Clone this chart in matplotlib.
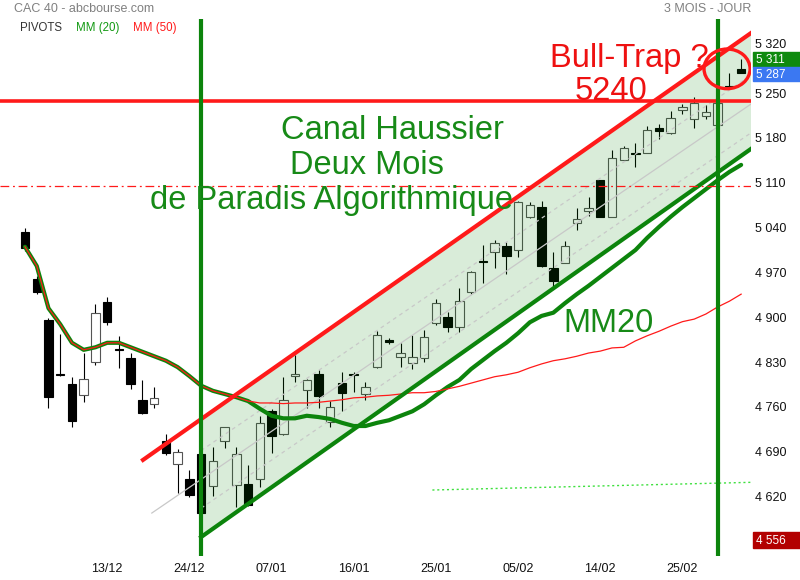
import numpy as np
import pandas as pd
import matplotlib
matplotlib.use("Agg")
import matplotlib.pyplot as plt
from matplotlib.patches import Ellipse, Rectangle, Polygon

plt.rcParams['font.family'] = ['Liberation Sans', 'DejaVu Sans']

# --- data: CAC 40 daily candles, 04/12/2018 -> 04/03/2019 ---
# trading days (Euronext closed 25/12, 26/12 and 01/01)
days = pd.bdate_range("2018-12-04", "2019-03-04")
days = days[~days.strftime("%m-%d").isin(["12-25", "12-26", "01-01"])]
dates = list(days.strftime("%d/%m"))

opens = [5033, 4960, 4896, 4811, 4796, 4778, 4830, 4924, 4850, 4836,
         4771, 4764, 4707, 4671, 4647, 4686, 4636, 4707, 4638, 4639,
         4647, 4753, 4718, 4808, 4786, 4811, 4736, 4797, 4811, 4780,
         4822, 4864, 4838, 4828, 4836, 4891, 4900, 4885, 4939, 4988,
         5002, 5011, 5005, 5057, 5072, 4977, 4985, 5047, 5066, 5114,
         5057, 5146, 5157, 5157, 5196, 5188, 5224, 5210, 5214, 5200,
         5261, 5288]
highs = [5039, 4964, 4899, 4874, 4807, 4844, 4921, 4932, 4871, 4844,
         4802, 4791, 4718, 4694, 4661, 4689, 4697, 4729, 4697, 4669,
         4746, 4757, 4807, 4841, 4803, 4818, 4769, 4814, 4814, 4799,
         4878, 4868, 4860, 4872, 4880, 4928, 4908, 4946, 4972, 5013,
         5021, 5018, 5081, 5080, 5082, 5002, 5019, 5071, 5088, 5115,
         5161, 5168, 5172, 5199, 5202, 5222, 5233, 5244, 5231, 5238,
         5282, 5304]
lows = [5003, 4936, 4758, 4808, 4728, 4768, 4825, 4888, 4821, 4788,
        4749, 4758, 4685, 4625, 4619, 4556, 4621, 4696, 4603, 4605,
        4635, 4688, 4716, 4799, 4758, 4758, 4728, 4753, 4783, 4771,
        4821, 4858, 4822, 4819, 4830, 4888, 4877, 4877, 4936, 4953,
        4977, 4968, 4994, 5055, 4979, 4946, 4984, 5036, 5058, 5056,
        5056, 5145, 5135, 5156, 5178, 5187, 5218, 5196, 5210, 5199,
        5258, 5281]
closes = [5008, 4939, 4775, 4809, 4738, 4803, 4907, 4893, 4848, 4796,
          4750, 4774, 4688, 4689, 4622, 4594, 4675, 4728, 4686, 4607,
          4735, 4714, 4771, 4811, 4802, 4777, 4760, 4782, 4809, 4791,
          4872, 4862, 4844, 4838, 4869, 4922, 4885, 4925, 4971, 4986,
          5016, 4996, 5080, 5075, 4980, 4957, 5011, 5053, 5071, 5057,
          5149, 5164, 5155, 5193, 5191, 5211, 5228, 5235, 5221, 5235,
          5260, 5282]

mm20 = [5010, 4980, 4914, 4889, 4860, 4849, 4853, 4860, 4860, 4853,
        4846, 4839, 4832, 4822, 4808, 4793, 4785, 4780, 4775, 4769,
        4757, 4746, 4742, 4742, 4746, 4744, 4741, 4735, 4730, 4730,
        4735, 4739, 4746, 4753, 4764, 4778, 4791, 4802, 4819, 4833,
        4847, 4860, 4875, 4892, 4902, 4907, 4922, 4936, 4949, 4963,
        4977, 4991, 5005, 5024, 5041, 5057, 5072, 5086, 5100, 5114,
        5127, 5138]
mm50 = [5010, 4980, 4914, 4889, 4860, 4849, 4853, 4860, 4860, 4853,
        4846, 4839, 4832, 4822, 4808, 4793, 4785, 4780, 4775, 4769,
        4766, 4766, 4765, 4766, 4766, 4767, 4769, 4771, 4774, 4775,
        4777, 4778, 4780, 4782, 4782, 4784, 4788, 4792, 4797, 4802,
        4807, 4810, 4814, 4821, 4827, 4832, 4835, 4839, 4844, 4847,
        4852, 4853, 4863, 4871, 4878, 4886, 4893, 4897, 4905, 4916,
        4925, 4936]

price_ticks = [4620, 4690, 4760, 4830, 4900, 4970, 5040, 5110, 5180, 5250]
top_tick = 5320

# drawn lines (day index, price)
channel_top = ([10.05, 61.84], [4677, 5344])
channel_bottom = ([15, 61.84], [4556.5, 5163])
regression = ([10.8, 61.84], [4594, 5233])
regression_band = 45
resistance = 5238
pivot_level = 5105
mm200_dotted = ([34.7, 61.84], [4630, 4642])
marker_days = [15, 59]

GREEN = '#0c840c'
RED = '#ff1a1a'


def fmt(v):
    return f"{v:,}".replace(",", " ")


fig = plt.figure(figsize=(8, 5.8), dpi=100)
ax = fig.add_axes([0, 24 / 580, 751 / 800, (556 - 19) / 580])
ax.set_xlim(-2.13, 61.84)
ax.set_ylim(4526.9, 5365.9)

x = np.arange(len(dates))
o = np.array(opens, float)
h = np.array(highs, float)
l = np.array(lows, float)
c = np.array(closes, float)
up = c >= o

# --- candles ---
ax.vlines(x, l, h, color='black', lw=0.8, zorder=2)
bottom = np.minimum(o, c)
height = np.maximum(np.abs(c - o), 1.2)
ax.bar(x[up], height[up], bottom=bottom[up], width=0.72, facecolor='white',
       edgecolor='#555555', lw=0.8, zorder=3)
ax.bar(x[~up], height[~up], bottom=bottom[~up], width=0.72, facecolor='black',
       edgecolor='black', lw=0.8, zorder=3)

# --- channel fill (on top of the candles, transparent) ---
cx = np.array([channel_bottom[0][0], channel_bottom[0][1]])
lo = np.interp(cx, *channel_bottom)
hi = np.interp(cx, *channel_top)
poly = Polygon([(cx[0], lo[0]), (cx[1], lo[1]), (cx[1], hi[1]), (cx[0], hi[0])],
               closed=True, facecolor='#008000', alpha=0.15, edgecolor='none', zorder=4)
ax.add_patch(poly)

# regression lines
ax.plot(*regression, color='#c8c8c8', lw=0.9, zorder=4.5)
rx = np.array([15, regression[0][1]])
ry = np.interp(rx, *regression)
ax.plot(rx, ry + regression_band, color='#c8c8c8', lw=0.9, ls=(0, (3, 3)), zorder=4.5)
ax.plot(rx, ry - regression_band, color='#c8c8c8', lw=0.9, ls=(0, (3, 3)), zorder=4.5)

# moving averages
ax.plot(x, mm20, color=GREEN, lw=3, zorder=5, solid_capstyle='round')
ax.plot(x, mm50, color=RED, lw=0.9, zorder=5.5)
ax.plot(*mm200_dotted, color='#3ee03e', lw=1, ls=(0, (1.5, 2)), zorder=5)

# channel borders and levels
ax.plot(*channel_top, color=RED, lw=3, zorder=6)
ax.plot(*channel_bottom, color=GREEN, lw=3, zorder=6)
ax.axhline(resistance, color=RED, lw=2.6, zorder=6)
ax.axhline(pivot_level, color=RED, lw=0.9, ls=(0, (7, 3, 1.5, 3)), zorder=6)
for d in marker_days:
    ax.axvline(d, color=GREEN, lw=3, zorder=7)

ax.add_patch(Ellipse((59.8, 5288), width=3.92, height=62, fill=False,
                     edgecolor=RED, lw=2.4, zorder=9))

# --- axes cosmetics ---
for s in ax.spines.values():
    s.set_visible(False)
ax.set_xticks(x[7::7])
ax.set_xticklabels(dates[7::7], fontsize=9, color='#111111')
ax.yaxis.tick_right()
ax.set_yticks(price_ticks)
ax.set_yticklabels([fmt(v) for v in price_ticks], fontsize=9, color='#111111')
ax.tick_params(axis='both', length=0)
ax.tick_params(axis='x', pad=5)
ax.tick_params(axis='y', pad=3)


def fx(px):
    return px / 800


def fy(py):
    return 1 - py / 580


# top scale label sits just above the price boxes
fig.text(fx(755), fy(45.5), fmt(top_tick), color='#111111', fontsize=9, va='center')

# header
fig.text(fx(14), fy(9), "CAC 40 - abcbourse.com", color='#808080', fontsize=9, va='center')
fig.text(fx(751), fy(9), "3 MOIS - JOUR", color='#808080', fontsize=9, va='center', ha='right')
fig.text(fx(20), fy(28), "PIVOTS", color='#333333', fontsize=8.3, va='center')
fig.text(fx(76), fy(28), "MM (20)", color='#119911', fontsize=8.3, va='center')
fig.text(fx(133), fy(28), "MM (50)", color='#ff1a1a', fontsize=8.3, va='center')

# annotations
TXT_G = '#178a17'
fig.text(fx(392), fy(139), "Canal Haussier", color=TXT_G, fontsize=23.5, ha='center', va='baseline', zorder=10)
fig.text(fx(367), fy(174), "Deux Mois", color=TXT_G, fontsize=23.5, ha='center', va='baseline', zorder=10)
fig.text(fx(332), fy(209), "de Paradis Algorithmique", color=TXT_G, fontsize=23.5, ha='center', va='baseline', zorder=10)
fig.text(fx(609), fy(332), "MM20", color=TXT_G, fontsize=23.5, ha='center', va='baseline', zorder=10)
fig.text(fx(629), fy(67), "Bull-Trap ?", color='#ee1111', fontsize=23.5, ha='center', va='baseline', zorder=10)
fig.text(fx(611), fy(100), "5240", color='#ee1111', fontsize=23.5, ha='center', va='baseline', zorder=10)

# price boxes on the right scale
for top, bot, col, txt in [(52.5, 66.5, '#0e8a0e', "5 311"),
                           (67, 81, '#3b78f2', "5 287"),
                           (532, 548, '#b30000', "4 556")]:
    fig.add_artist(Rectangle((fx(753), fy(bot)), fx(47), (bot - top) / 580,
                             transform=fig.transFigure, color=col, zorder=10))
    fig.text(fx(756), fy((top + bot) / 2 + 0.5), txt, color='white', fontsize=8.5,
             va='center', zorder=11)

fig.savefig("out.png", dpi=100)
